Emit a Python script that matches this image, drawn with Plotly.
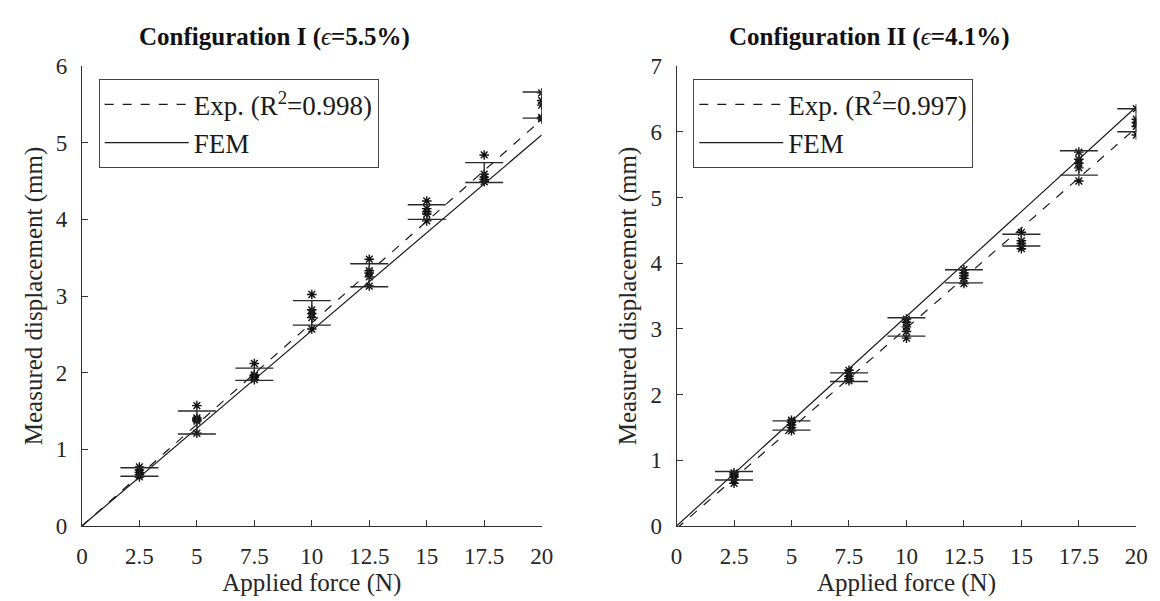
import plotly.graph_objects as go

forces = [2.5, 5, 7.5, 10, 12.5, 15, 17.5, 20]
tick_vals = [0, 2.5, 5, 7.5, 10, 12.5, 15, 17.5, 20]
tick_text = ["0", "2.5", "5", "7.5", "10", "12.5", "15", "17.5", "20"]

# Configuration I measurements (5 per force)
meas_I = [
    [0.64, 0.67, 0.70, 0.73, 0.77],
    [1.21, 1.37, 1.39, 1.41, 1.57],
    [1.91, 1.94, 1.96, 1.97, 2.12],
    [2.57, 2.72, 2.77, 2.82, 3.02],
    [3.13, 3.25, 3.30, 3.33, 3.48],
    [3.98, 4.07, 4.10, 4.14, 4.24],
    [4.49, 4.52, 4.55, 4.59, 4.84],
    [5.31, 5.33, 5.49, 5.55, 5.65],
]
mean_I = [0.705, 1.35, 1.98, 2.78, 3.27, 4.095, 4.61, 5.49]
sd_I = [0.055, 0.15, 0.08, 0.16, 0.15, 0.095, 0.13, 0.17]

# Configuration II measurements
meas_II = [
    [0.65, 0.70, 0.75, 0.78, 0.81],
    [1.45, 1.50, 1.54, 1.58, 1.61],
    [2.21, 2.24, 2.28, 2.33, 2.37],
    [2.86, 2.96, 3.03, 3.10, 3.15],
    [3.69, 3.77, 3.81, 3.85, 3.90],
    [4.22, 4.26, 4.30, 4.34, 4.47],
    [5.25, 5.45, 5.52, 5.58, 5.69],
    [5.95, 6.08, 6.14, 6.19, 6.35],
]
mean_II = [0.765, 1.53, 2.265, 3.03, 3.80, 4.35, 5.525, 6.175]
sd_II = [0.065, 0.07, 0.065, 0.14, 0.10, 0.09, 0.185, 0.175]

# fitted / simulated lines (values at force 0 and 20)
line_x = [0, 20]
exp_I = [0.0, 5.30]
fem_I = [0.0, 5.10]
exp_II = [-0.04, 6.06]
fem_II = [0.0, 6.38]

FONT = "Liberation Serif"
AX = "#333333"

fig = go.Figure()


def add_panel(meas, mean, sd, exp_line, fem_line, xa, ya, r2, legend):
    fig.add_trace(go.Scatter(x=line_x, y=exp_line, mode="lines", xaxis=xa, yaxis=ya,
                             line=dict(color="#1a1a1a", width=1.2, dash="dash"),
                             name=f"Exp. (R<sup>2</sup>={r2})", legend=legend))
    fig.add_trace(go.Scatter(x=line_x, y=fem_line, mode="lines", xaxis=xa, yaxis=ya,
                             line=dict(color="#1a1a1a", width=1.2), name="FEM", legend=legend))
    xs, ys = [], []
    for f, vals in zip(forces, meas):
        for v in vals:
            xs.append(f)
            ys.append(v)
    fig.add_trace(go.Scatter(x=xs, y=ys, mode="markers", xaxis=xa, yaxis=ya, showlegend=False,
                             marker=dict(symbol="asterisk-open", size=8, color="#111",
                                         line=dict(color="#111", width=1.4))))
    fig.add_trace(go.Scatter(x=forces, y=mean, mode="markers", xaxis=xa, yaxis=ya, showlegend=False,
                             marker=dict(size=1, color="rgba(0,0,0,0)"),
                             error_y=dict(type="data", array=sd, visible=True, color="#2a2a2a",
                                          thickness=1.4, width=19)))


add_panel(meas_I, mean_I, sd_I, exp_I, fem_I, "x", "y", "0.998", "legend")
add_panel(meas_II, mean_II, sd_II, exp_II, fem_II, "x2", "y2", "0.997", "legend2")

axis_common = dict(showline=True, linecolor=AX, linewidth=1, ticks="inside", ticklen=6,
                   tickcolor=AX, showgrid=False, zeroline=False, mirror=False,
                   ticklabelstandoff=9,
                   tickfont=dict(family=FONT, size=23, color="#262626"),
                   title_font=dict(family=FONT, size=25, color="#262626"))

ydom = [73 / 601, 553 / 601]
leg_common = dict(xanchor="left", yanchor="top", bordercolor="#444", borderwidth=1, bgcolor="white",
                  font=dict(family=FONT, size=27, color="#1a1a1a"), tracegroupgap=0,
                  itemwidth=84)
fig.update_layout(
    width=1160, height=601,
    margin=dict(l=0, r=0, t=0, b=0),
    paper_bgcolor="white", plot_bgcolor="white",
    font=dict(family=FONT, size=22, color="#222"),
    xaxis=dict(domain=[69 / 1160, 536 / 1160], range=[0, 20], tickvals=tick_vals, ticktext=tick_text,
               title=dict(text="Applied force (N)", standoff=2), anchor="y", **axis_common),
    yaxis=dict(domain=ydom, range=[0, 6], dtick=1,
               title=dict(text="Measured displacement (mm)", standoff=6), anchor="x", **axis_common),
    xaxis2=dict(domain=[673 / 1160, 1140 / 1160], range=[0, 20], tickvals=tick_vals, ticktext=tick_text,
                title=dict(text="Applied force (N)", standoff=2), anchor="y2", **axis_common),
    yaxis2=dict(domain=ydom, range=[0, 7], dtick=1,
                title=dict(text="Measured displacement (mm)", standoff=6), anchor="x2", **axis_common),
    legend=dict(x=86 / 1160, y=1 - 62 / 601, **leg_common),
    legend2=dict(x=690 / 1160, y=1 - 62 / 601, **leg_common),
    annotations=[
        dict(text="<b>Configuration I (</b><i>ϵ</i><b>=5.5%)</b>", x=265 / 1160, y=1 - 18 / 601,
             xref="paper", yref="paper", showarrow=False, xanchor="center", yanchor="middle",
             font=dict(family=FONT, size=25, color="#111")),
        dict(text="<b>Configuration II (</b><i>ϵ</i><b>=4.1%)</b>", x=869 / 1160, y=1 - 18 / 601,
             xref="paper", yref="paper", showarrow=False, xanchor="center", yanchor="middle",
             font=dict(family=FONT, size=25, color="#111")),
    ],
)

fig.write_html("out.html")
